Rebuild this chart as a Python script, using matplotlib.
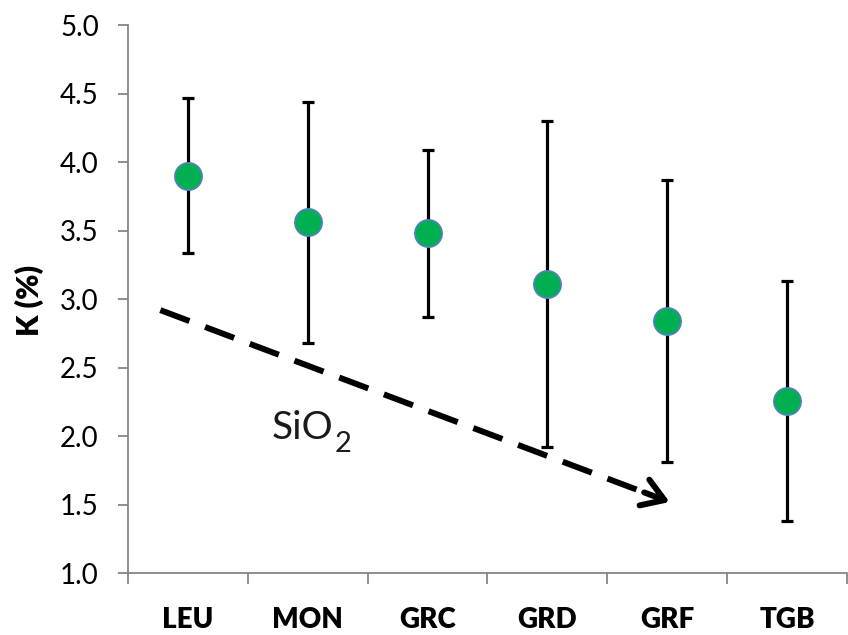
import matplotlib
matplotlib.use("Agg")
import matplotlib.pyplot as plt
import numpy as np

categories = ["LEU", "MON", "GRC", "GRD", "GRF", "TGB"]
k_mean = [3.90, 3.56, 3.48, 3.11, 2.84, 2.26]
k_upper = [4.47, 4.44, 4.09, 4.30, 3.87, 3.13]
k_lower = [3.34, 2.68, 2.87, 1.92, 1.81, 1.38]

yticks = [1.0, 1.5, 2.0, 2.5, 3.0, 3.5, 4.0, 4.5, 5.0]

# trend arrow annotation (data coords)
arrow_start = (-0.23, 2.92)
arrow_end = (4.02, 1.52)

plt.rcParams['font.family'] = ['Lato', 'DejaVu Sans']

fig = plt.figure(figsize=(8.48, 6.35), dpi=100)
ax = fig.add_axes([128/848, 1-573.3/635, (847-128)/848, (573.3-25)/635])

x = np.arange(len(categories))
mean = np.array(k_mean)
yerr = [mean - np.array(k_lower), np.array(k_upper) - mean]

ax.errorbar(x, mean, yerr=yerr, fmt='none', ecolor='black', elinewidth=2.3,
            capsize=4.5, capthick=2.3, zorder=2)
ax.plot(x, mean, 'o', markersize=19.5, markerfacecolor='#00B050',
        markeredgecolor='#4F81BD', markeredgewidth=1.3, zorder=3, linestyle='none')

# dashed trend arrow
sx, sy = arrow_start
ex, ey = arrow_end
frac = 0.965
ax.plot([sx, sx + (ex - sx) * frac], [sy, sy + (ey - sy) * frac], color='black',
        linewidth=4.3, dashes=(5.2, 2.8), solid_capstyle='butt', dash_capstyle='butt', zorder=1)
ax.annotate('', xy=(ex, ey), xytext=(sx + (ex - sx) * 0.95, sy + (ey - sy) * 0.95),
            arrowprops=dict(arrowstyle='->,head_length=0.7,head_width=0.45',
                            color='black', linewidth=4.3, mutation_scale=22,
                            shrinkA=0, shrinkB=0), zorder=1)

sio = ax.text(0.7, 1.98, 'SiO', fontsize=28, color='#1a1a1a', ha='left', va='baseline')
ax.annotate('2', xy=(1.0, 0.0), xycoords=sio, xytext=(1, 1.5), textcoords='offset points',
            fontsize=21, color='#1a1a1a', ha='left', va='center')

ax.set_xlim(-0.5, len(categories) - 0.5)
ax.set_ylim(1.0, 5.0)
ax.set_yticks(yticks)
ax.set_yticklabels([f"{v:.1f}" for v in yticks], fontsize=20)
ax.set_xticks(x)
ax.set_xticklabels(categories, fontsize=20, fontweight='heavy')
ax.set_xticks(np.arange(len(categories) + 1) - 0.5, minor=True)
ax.tick_params(axis='x', which='major', length=0, pad=24)
ax.tick_params(axis='x', which='minor', length=8, width=1.3, color='#868686')
ax.tick_params(axis='y', which='major', length=7, width=1.3, color='#868686', pad=14)

for s in ['top', 'right']:
    ax.spines[s].set_visible(False)
for s in ['left', 'bottom']:
    ax.spines[s].set_color('#868686')
    ax.spines[s].set_linewidth(1.3)

fig.text(29/848, 1-300/635, 'K (%)', rotation=90, fontsize=22, fontweight='heavy',
         ha='center', va='center')

fig.savefig('out.png', dpi=100)
